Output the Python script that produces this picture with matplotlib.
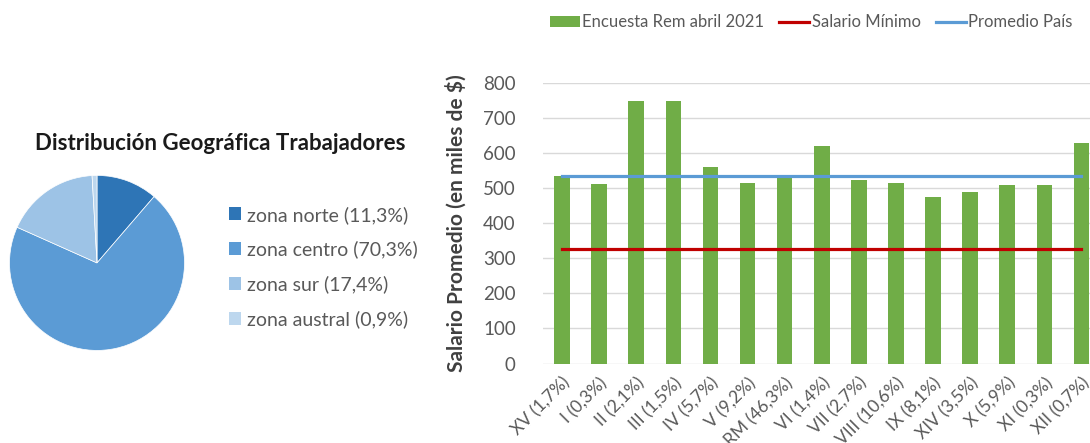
import numpy as np
import matplotlib.pyplot as plt
from matplotlib.patches import Patch
from matplotlib.lines import Line2D

plt.rcParams['font.family'] = ['Lato', 'DejaVu Sans']

# Pie data
zonas = ["zona norte (11,3%)", "zona centro (70,3%)", "zona sur (17,4%)", "zona austral (0,9%)"]
zona_pct = [11.3, 70.3, 17.4, 0.9]
zona_colors = ["#2E75B6", "#5B9BD5", "#9DC3E6", "#BDD7EE"]

# Bar data
regiones = ["XV (1,7%)", "I (0,3%)", "II (2,1%)", "III (1,5%)", "IV (5,7%)", "V (9,2%)",
            "RM (46,3%)", "VI (1,4%)", "VII (2,7%)", "VIII (10,6%)", "IX (8,1%)",
            "XIV (3,5%)", "X (5,9%)", "XI (0,3%)", "XII (0,7%)"]
salario = [536, 513, 750, 750, 561, 516, 532, 619, 522, 516, 474, 490, 508, 508, 628]
salario_minimo = 326
promedio_pais = 534

fig = plt.figure(figsize=(10.90, 4.43), dpi=100)

# Pie chart
ax1 = fig.add_axes([0.0087, 0.209, 0.1606, 0.395])
ax1.pie(zona_pct, colors=zona_colors, startangle=90, counterclock=False,
        wedgeprops=dict(edgecolor="white", linewidth=0.5))
ax1.set_xlim(-1, 1)
ax1.set_ylim(-1, 1)
ax1.set_aspect("equal")
fig.text(0.202, 0.677, "Distribución Geográfica Trabajadores", ha="center", va="center",
         fontsize=16, fontweight="bold", color="#1a1a1a")
handles = [Patch(facecolor=c, edgecolor="none") for c in zona_colors]
fig.legend(handles, zonas, loc="upper left", bbox_to_anchor=(0.2025, 0.553), frameon=False,
           fontsize=14, labelcolor="#595959", handlelength=0.65, handleheight=0.65,
           handletextpad=0.3, labelspacing=0.87, borderaxespad=0)

# Bar chart
ax2 = fig.add_axes([0.4986, 0.1794, 0.5106, 0.6333])
x = np.arange(len(regiones))
ax2.bar(x, salario, width=0.42, color="#70AD47", zorder=2)
ax2.plot([x[0], x[-1]], [salario_minimo] * 2, color="#C00000", linewidth=2.3, zorder=3)
ax2.plot([x[0], x[-1]], [promedio_pais] * 2, color="#5B9BD5", linewidth=2.3, zorder=3)
ax2.set_xlim(-0.5, len(regiones) - 0.5)
ax2.set_ylim(0, 800)
ax2.set_yticks(range(0, 801, 100))
ax2.yaxis.grid(True, color="#D9D9D9", linewidth=1, zorder=0)
ax2.set_axisbelow(True)
for s in ax2.spines.values():
    s.set_visible(False)
ax2.tick_params(length=0, labelsize=13.5, colors="#595959")
ax2.tick_params(axis="y", pad=20)
ax2.set_xticks(x)
ax2.set_xticklabels(regiones, rotation=45, ha="right", rotation_mode="anchor", fontsize=12.5)
ax2.tick_params(axis="x", pad=8)
ax2.set_ylabel("Salario Promedio (en miles de $)", fontsize=15, fontweight="bold",
               color="#404040", labelpad=12)

leg_handles = [Patch(facecolor="#70AD47"),
               Line2D([], [], color="#C00000", linewidth=2.3),
               Line2D([], [], color="#5B9BD5", linewidth=2.3)]
fig.legend(leg_handles, ["Encuesta Rem abril 2021", "Salario Mínimo", "Promedio País"],
           loc="center", bbox_to_anchor=(0.744, 0.95), ncol=3, frameon=False,
           fontsize=12, labelcolor="#595959", handlelength=1.8, handleheight=0.6,
           handletextpad=0.15, columnspacing=0.9)

fig.savefig("out.png", dpi=100)
